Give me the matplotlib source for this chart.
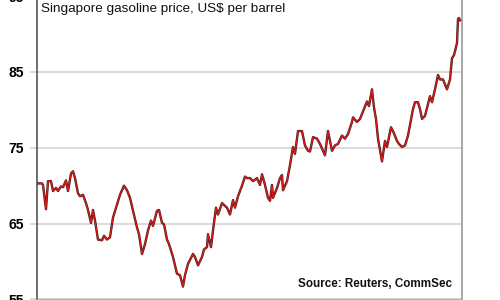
import matplotlib
matplotlib.use("Agg")
import matplotlib.pyplot as plt
import matplotlib.patheffects as pe

plt.rcParams['font.family'] = ['Liberation Sans', 'DejaVu Sans']

# period index (approx. sampling position along the time axis)
period = [0, 5, 6, 9, 11, 14, 16, 19, 21, 24, 26, 29, 31, 34, 36, 38, 41, 43, 46,
          49, 51, 54, 56, 58, 61, 65, 67, 70, 73, 76, 80, 83, 87, 90, 93, 96, 100,
          102, 105, 108, 111, 114, 116, 120, 122, 125, 127, 130, 132, 136, 140, 143,
          146, 148, 151, 156, 158, 161, 165, 167, 170, 171, 174, 176, 179, 181, 185,
          190, 193, 196, 198, 201, 205, 208, 210, 213, 216, 220, 223, 225, 228, 231,
          233, 235, 236, 240, 243, 245, 246, 250, 253, 256, 258, 261, 265, 268, 271,
          273, 276, 280, 283, 286, 288, 291, 295, 298, 301, 305, 308, 311, 315, 316,
          320, 323, 326, 330, 332, 335, 337, 339, 341, 345, 348, 350, 354, 356, 360,
          362, 365, 368, 371, 376, 378, 381, 383, 385, 388, 393, 395, 398, 401, 403,
          406, 410, 413, 415, 417, 420, 421, 422, 423]

# Singapore gasoline price, US$ per barrel
price = [70.3, 70.3, 70.1, 66.9, 70.6, 70.6, 69.3, 69.7, 69.3, 69.9, 69.8, 70.7,
         69.3, 71.6, 71.9, 71.0, 69.0, 68.6, 68.8, 67.7, 66.8, 65.1, 66.8, 65.4,
         62.9, 62.8, 63.4, 62.9, 63.2, 65.8, 67.5, 68.8, 70.0, 69.4, 68.4, 66.7,
         64.5, 63.6, 61.0, 62.3, 64.1, 65.4, 64.7, 66.7, 66.8, 65.1, 64.9, 62.9,
         62.3, 60.6, 58.4, 58.2, 56.7, 58.2, 59.7, 61.0, 60.6, 59.5, 60.6, 61.6,
         61.9, 63.6, 61.9, 64.1, 67.1, 66.2, 67.7, 67.1, 66.2, 68.1, 67.1, 68.6,
         70.0, 71.2, 71.0, 71.0, 70.6, 71.0, 70.1, 71.5, 70.1, 68.4, 68.0, 70.1,
         68.4, 69.7, 71.0, 71.4, 69.4, 70.6, 72.7, 75.1, 74.2, 77.2, 77.2, 75.3,
         74.6, 74.5, 76.4, 76.2, 75.5, 74.6, 74.0, 77.2, 74.6, 75.3, 75.5, 76.6,
         76.2, 76.8, 78.4, 79.0, 78.4, 78.8, 79.8, 81.1, 80.5, 82.7, 80.3, 78.8,
         76.2, 73.2, 75.9, 75.1, 77.7, 77.2, 75.9, 75.5, 75.1, 75.3, 76.6, 80.1,
         81.0, 81.0, 80.1, 78.8, 79.2, 81.8, 81.0, 82.7, 84.6, 84.0, 84.0, 82.7,
         84.0, 86.8, 87.2, 88.8, 92.0, 92.1, 91.8]

y_ticks = [55, 65, 75, 85, 95]
title = "Singapore gasoline price, US$ per barrel"
source = "Source: Reuters, CommSec"

fig = plt.figure(figsize=(5, 3), dpi=100)
ax = fig.add_axes([0.074, 0.0017, 0.850, 1.0116])
ax.set_xlim(0, 425)
ax.set_ylim(55, 95)

ax.plot(period, price, color='#d81c1c', lw=0.9, solid_joinstyle='round',
        path_effects=[pe.Stroke(linewidth=1.7, foreground='#4a1a1a'), pe.Normal()],
        zorder=3)

ax.set_yticks(y_ticks)
ax.set_yticklabels([str(t) for t in y_ticks], fontsize=10, fontweight='bold')
ax.tick_params(axis='y', length=5, width=1.2, color='#d4d4d4', pad=4.5)
ax.set_xticks([])
ax.grid(axis='y', color='#d4d4d4', lw=1.2)
ax.set_axisbelow(True)

ax.spines['top'].set_visible(False)
ax.spines['left'].set_color('#555555')
ax.spines['left'].set_linewidth(1.2)
ax.spines['right'].set_color('#9a9a9a')
ax.spines['right'].set_linewidth(1.2)
ax.spines['bottom'].set_color('#b0b0b0')
ax.spines['bottom'].set_linestyle((0, (2, 1)))

fig.text(0.082, 0.97, title, fontsize=9.7, ha='left', va='center', color='#111111')
fig.text(0.904, 0.053, source, fontsize=8.4, fontweight='bold', ha='right', va='center',
         color='#111111')

fig.savefig("out.png", dpi=100)
